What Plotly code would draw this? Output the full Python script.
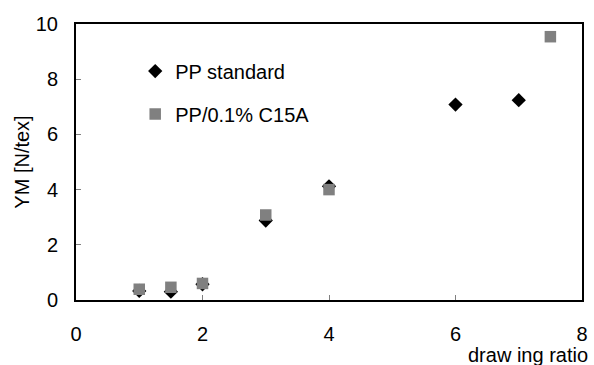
import plotly.graph_objects as go

pp_x = [1, 1.5, 2, 3, 4, 6, 7]
pp_y = [0.33, 0.3, 0.57, 2.88, 4.12, 7.08, 7.24]
c15_x = [1, 1.5, 2, 3, 4, 7.5]
c15_y = [0.39, 0.46, 0.6, 3.08, 4.0, 9.54]
x_ticks = [0, 2, 4, 6, 8]
y_ticks = [0, 2, 4, 6, 8, 10]

fnt = "Liberation Sans, Arial, sans-serif"
fs = 20
clear = "rgba(0,0,0,0)"

fig = go.Figure()
fig.add_trace(go.Scatter(x=pp_x, y=pp_y, mode="markers", name="PP standard",
                         legendgroup="a",
                         marker=dict(symbol="diamond", size=11, color="black")))
fig.add_trace(go.Scatter(x=c15_x, y=c15_y, mode="markers", name="PP/0.1% C15A",
                         legendgroup="b",
                         marker=dict(symbol="square", size=11.5, color="#808080")))
# empty helper trace so the inside-tick overlay axes are drawn
fig.add_trace(go.Scatter(x=[], y=[], xaxis="x2", yaxis="y2", showlegend=False,
                         hoverinfo="skip"))

fig.update_layout(
    width=594, height=365,
    margin=dict(l=76, r=6, t=24, b=65),
    plot_bgcolor="white", paper_bgcolor="white",
    font=dict(family=fnt, size=fs, color="black"),
    showlegend=True,
    legend=dict(x=0.117, y=0.9, xanchor="left", yanchor="top",
                bgcolor=clear, tracegroupgap=14,
                font=dict(family=fnt, size=fs, color="black"),
                itemwidth=30),
    xaxis=dict(range=[0, 8], tickvals=x_ticks, showgrid=False, zeroline=False,
               showline=True, linecolor="black", linewidth=2, mirror=True,
               ticks="outside", ticklen=15, tickcolor=clear,
               tickfont=dict(size=fs)),
    yaxis=dict(range=[0, 10], tickvals=y_ticks, showgrid=False, zeroline=False,
               showline=True, linecolor="black", linewidth=2, mirror=True,
               ticks="outside", ticklen=12, tickcolor=clear,
               tickfont=dict(size=fs),
               title=dict(text="YM [N/tex]", font=dict(size=fs), standoff=1)),
    xaxis2=dict(range=[0, 8], tickvals=x_ticks, overlaying="x", anchor="y",
                side="bottom", showgrid=False, zeroline=False, showline=False,
                showticklabels=False, ticks="inside", ticklen=5,
                tickcolor="#808080", tickwidth=1),
    yaxis2=dict(range=[0, 10], tickvals=y_ticks, overlaying="y", anchor="x",
                side="left", showgrid=False, zeroline=False, showline=False,
                showticklabels=False, ticks="inside", ticklen=5,
                tickcolor="#808080", tickwidth=1),
    annotations=[dict(text="draw ing ratio", xref="paper", yref="paper",
                      x=1.015, y=-0.2, xanchor="right", yanchor="middle",
                      showarrow=False, font=dict(size=fs, family=fnt))],
)

fig.write_html("out.html", config={"displayModeBar": False},
               post_script="document.body.style.margin='0';document.body.style.overflow='hidden';")
